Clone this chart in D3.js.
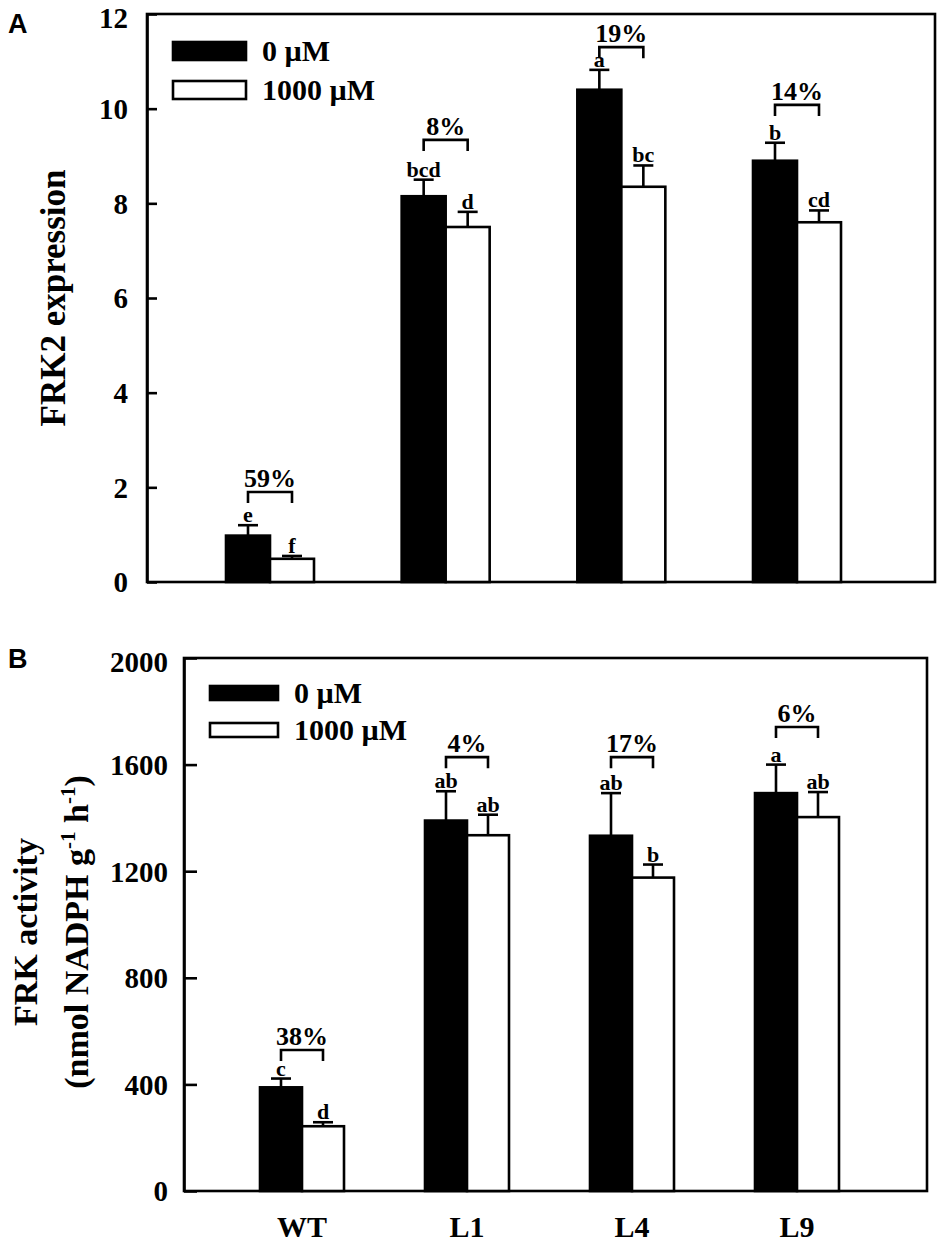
<!DOCTYPE html>
<html>
<head>
<meta charset="utf-8">
<script src="https://cdn.jsdelivr.net/npm/d3@7"></script>
<style>
  body { margin: 0; background: #fff; }
  text { font-family: "Liberation Serif", "Times New Roman", serif; font-weight: bold; fill: #000; }
</style>
</head>
<body>
<svg id="chart"></svg>
<script>
// categories and series
var lines = ["WT", "L1", "L4", "L9"];
var seriesNames = ["0 \u00b5M", "1000 \u00b5M"];

// panel A : FRK2 expression
var frk2Ctrl = [0.98, 8.15, 10.4, 8.9];
var frk2CtrlErr = [0.22, 0.35, 0.42, 0.38];
var frk2Trt = [0.49, 7.5, 8.35, 7.6];
var frk2TrtErr = [0.06, 0.32, 0.45, 0.25];
var frk2LetCtrl = ["e", "bcd", "a", "b"];
var frk2LetTrt = ["f", "d", "bc", "cd"];
var frk2Drop = ["59%", "8%", "19%", "14%"];
var frk2Bracket = [1.9, 9.34, 11.3, 10.08];
var frk2Ticks = [0, 2, 4, 6, 8, 10, 12];

// panel B : FRK activity
var actCtrl = [389, 1390, 1333, 1493];
var actCtrlErr = [33, 110, 160, 107];
var actTrt = [243, 1335, 1176, 1403];
var actTrtErr = [15, 77, 49, 94];
var actLetCtrl = ["c", "ab", "ab", "a"];
var actLetTrt = ["d", "ab", "b", "ab"];
var actDrop = ["38%", "4%", "17%", "6%"];
var actBracket = [529, 1628, 1628, 1741];
var actTicks = [0, 400, 800, 1200, 1600, 2000];

var W = 950, H = 1254;
var svg = d3.select("#chart").attr("width", W).attr("height", H);

function panel(o) {
  var g = svg.append("g");
  var y = d3.scaleLinear().domain([0, o.max]).range([o.bottom, o.top]);
  var x = d3.scalePoint().domain(lines).range([o.c0, o.c1]);
  var xs = d3.scaleBand().domain(seriesNames).range([-o.bw, o.bw]);

  // frame
  g.append("rect")
    .attr("x", o.left).attr("y", o.top)
    .attr("width", o.right - o.left).attr("height", o.bottom - o.top)
    .attr("fill", "none").attr("stroke", "#000").attr("stroke-width", 2.6);

  var ax = g.append("g")
    .attr("transform", "translate(" + o.left + ",0)")
    .call(d3.axisLeft(y).tickValues(o.ticks).tickFormat(d3.format("d"))
      .tickSizeInner(-o.tick).tickSizeOuter(0).tickPadding(o.pad));
  ax.select(".domain").attr("stroke-width", 2.6);
  ax.selectAll(".tick line").attr("stroke-width", 2.6);
  ax.selectAll(".tick text")
    .style("font-family", "Liberation Serif").style("font-weight", "bold")
    .style("font-size", "29px")
    .attr("dy", function(d) { return d === o.max ? "0.45em" : "0.34em"; });

  var rows = lines.map(function(c, i) {
    return {c: c, i: i};
  });

  var sets = [
    {name: seriesNames[0], v: o.ctrl, e: o.ctrlErr, l: o.letCtrl, fill: "#000"},
    {name: seriesNames[1], v: o.trt, e: o.trtErr, l: o.letTrt, fill: "#fff"}
  ];

  sets.forEach(function(s) {
    var cx = function(d) { return x(d.c) + xs(s.name) + xs.bandwidth() / 2; };
    // error bars
    g.selectAll(null).data(rows).enter().append("line")
      .attr("x1", cx).attr("x2", cx)
      .attr("y1", function(d) { return y(s.v[d.i]); })
      .attr("y2", function(d) { return y(s.v[d.i] + s.e[d.i]); })
      .attr("stroke", "#000").attr("stroke-width", 2.6);
    g.selectAll(null).data(rows).enter().append("line")
      .attr("x1", function(d) { return cx(d) - 10; })
      .attr("x2", function(d) { return cx(d) + 10; })
      .attr("y1", function(d) { return y(s.v[d.i] + s.e[d.i]); })
      .attr("y2", function(d) { return y(s.v[d.i] + s.e[d.i]); })
      .attr("stroke", "#000").attr("stroke-width", 2.6);
    // bars
    g.selectAll(null).data(rows).enter().append("rect")
      .attr("x", function(d) { return x(d.c) + xs(s.name); })
      .attr("width", xs.bandwidth())
      .attr("y", function(d) { return y(s.v[d.i]); })
      .attr("height", function(d) { return y(0) - y(s.v[d.i]); })
      .attr("fill", s.fill).attr("stroke", "#000").attr("stroke-width", 2.6);
    // letters
    g.selectAll(null).data(rows).enter().append("text")
      .attr("x", cx)
      .attr("y", function(d) { return y(s.v[d.i] + s.e[d.i]) - 3; })
      .attr("text-anchor", "middle")
      .style("font-size", "22px")
      .text(function(d) { return s.l[d.i]; });
  });

  // brackets with percent decrease
  var b0 = function(d) { return x(d.c) - o.bw / 2; };
  var b1 = function(d) { return x(d.c) + o.bw / 2; };
  g.selectAll(null).data(rows).enter().append("path")
    .attr("d", function(d) {
      var yy = y(o.bracket[d.i]);
      return "M" + b0(d) + "," + (yy + 11) + "V" + yy + "H" + b1(d) + "V" + (yy + 11);
    })
    .attr("fill", "none").attr("stroke", "#000").attr("stroke-width", 2.6);
  g.selectAll(null).data(rows).enter().append("text")
    .attr("x", function(d) { return x(d.c); })
    .attr("y", function(d) { return y(o.bracket[d.i]) - 5; })
    .attr("text-anchor", "middle")
    .style("font-size", "26px")
    .text(function(d) { return o.drop[d.i]; });

  // legend
  var lg = g.append("g");
  seriesNames.forEach(function(n, i) {
    lg.append("rect")
      .attr("x", o.lx).attr("y", o.ly + i * o.lstep)
      .attr("width", o.lw).attr("height", o.lh)
      .attr("fill", i === 0 ? "#000" : "#fff")
      .attr("stroke", "#000").attr("stroke-width", 2.6);
    lg.append("text")
      .attr("x", o.lx + o.lw + 16).attr("y", o.ly + i * o.lstep + o.lh / 2 + 10)
      .style("font-size", "30px")
      .text(n);
  });

  // panel letter
  svg.append("text")
    .attr("x", 8).attr("y", o.tagY)
    .style("font-family", "Liberation Sans").style("font-weight", "bold")
    .style("font-size", "27px")
    .text(o.tag);

  return {g: g, x: x, y: y};
}

var pA = panel({
  left: 147, right: 935, top: 14, bottom: 582, max: 12,
  c0: 270, c1: 797, bw: 44, ticks: frk2Ticks, tick: 10, pad: 19,
  ctrl: frk2Ctrl, ctrlErr: frk2CtrlErr, trt: frk2Trt, trtErr: frk2TrtErr,
  letCtrl: frk2LetCtrl, letTrt: frk2LetTrt, drop: frk2Drop, bracket: frk2Bracket,
  lx: 173, ly: 42, lw: 73, lh: 18, lstep: 39, tag: "A", tagY: 33
});

svg.append("text")
  .attr("transform", "translate(65,298) rotate(-90)")
  .attr("text-anchor", "middle")
  .style("font-size", "35px")
  .text("FRK2 expression");

var pB = panel({
  left: 184, right: 927, top: 658, bottom: 1191, max: 2000,
  c0: 302, c1: 797, bw: 42, ticks: actTicks, tick: 13, pad: 16,
  ctrl: actCtrl, ctrlErr: actCtrlErr, trt: actTrt, trtErr: actTrtErr,
  letCtrl: actLetCtrl, letTrt: actLetTrt, drop: actDrop, bracket: actBracket,
  lx: 210, ly: 686, lw: 68, lh: 14, lstep: 37, tag: "B", tagY: 668
});

var tB = svg.append("text")
  .attr("transform", "translate(0,932) rotate(-90)")
  .attr("text-anchor", "middle")
  .style("font-size", "34px");
tB.append("tspan").attr("x", 0).attr("y", 37).text("FRK activity");
tB.append("tspan").attr("x", 0).attr("y", 88).text("(nmol NADPH g");
tB.append("tspan").attr("dy", -13).style("font-size", "21px").text("-1");
tB.append("tspan").attr("dy", 13).text(" h");
tB.append("tspan").attr("dy", -13).style("font-size", "21px").text("-1");
tB.append("tspan").attr("dy", 13).text(")");

// category labels under panel B
svg.append("g").selectAll("text").data(lines).enter().append("text")
  .attr("x", function(d) { return pB.x(d); })
  .attr("y", 1237)
  .attr("text-anchor", "middle")
  .style("font-size", "30px")
  .text(function(d) { return d; });
</script>
</body>
</html>
